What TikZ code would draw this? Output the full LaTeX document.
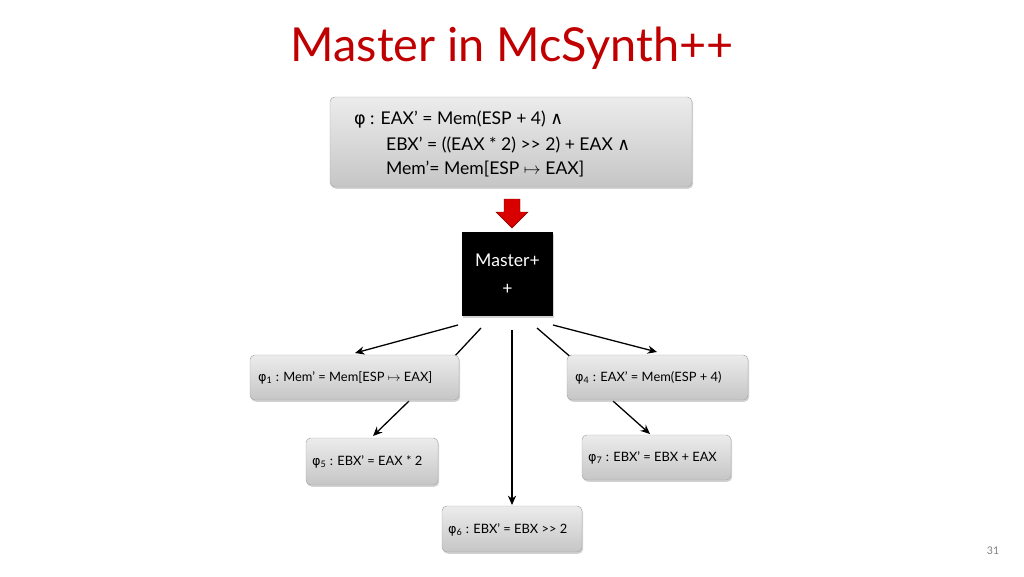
\documentclass[tikz,border=0pt]{standalone}
\usepackage{fontspec}
\setmainfont{Lato}
\newfontfamily\grk{DejaVu Sans}
\usetikzlibrary{arrows.meta,shadows}

\definecolor{titlered}{RGB}{192,0,0}
\newcommand{\phisym}{{\grk φ}}
\tikzset{
  greybox/.style={draw=gray!70, rounded corners=4pt, top color=gray!15, bottom color=gray!45,
    drop shadow={shadow xshift=1pt, shadow yshift=-1.5pt, opacity=0.35}},
  link/.style={line width=1.1pt, -{Stealth[length=8pt,width=7pt]}},
  lbl/.style={anchor=west, font=\fontsize{11}{13}\selectfont}
}

\begin{document}
\begin{tikzpicture}[x=0.03cm,y=-0.03cm]
    \useasboundingbox (0,0) rectangle (1024,576);

    \node[titlered, font=\fontsize{40}{44}\selectfont] (title) at (512,48) {Master in McSynth++};

    % top formula
    \draw[greybox] (330,97) rectangle (692,187);
    \node[anchor=west, font=\fontsize{15}{18}\selectfont] (f1) at (350,120) {\phisym{} : EAX’ = Mem(ESP + 4) {\grk ∧}};
    \node[anchor=west, font=\fontsize{15}{18}\selectfont] (f2) at (382,145) {EBX’ = ((EAX * 2) >{}> 2) + EAX {\grk ∧}};
    \node[anchor=west, font=\fontsize{15}{18}\selectfont] (f3) at (382,169) {Mem’= Mem[ESP $\mapsto$ EAX]};

    % red arrow
    \fill[red!85!black, draw=red!50!black] (504,199) -- (520,199) -- (520,212) -- (528,212) -- (512,228) -- (496,212) -- (504,212) -- cycle;

    % master box
    \fill[black, drop shadow={shadow xshift=1pt, shadow yshift=-1.5pt, opacity=0.35}] (462,232) rectangle (553,316);
    \node[white, align=center, font=\fontsize{15}{24}\selectfont] (M) at (507.5,274) {Master+\\+};

    \coordinate (s1) at (458,325);
    \coordinate (s2) at (481,328);
    \coordinate (s3) at (512,330);
    \coordinate (s4) at (537,328);
    \coordinate (s5) at (553,325);
    \coordinate (e2) at (440,372);
    \coordinate (e4) at (588,372);

    % connectors (some run under the boxes)
    \draw[link] (s1) -- (355,353);
    \draw[link] (s2) -- (e2);
    \draw[link] (s3) -- (512,505);
    \draw[link] (s4) -- (e4);
    \draw[link] (s5) -- (657,352);
    \draw[link] (409,401) -- (373,436);
    \draw[link] (613,401) -- (650,434);

    % leaf boxes
    \draw[greybox] (250,355) rectangle (459,400);
    \node[lbl] (p1) at (254,378) {\phisym\textsubscript{1} : Mem’ = Mem[ESP $\mapsto$ EAX]};
    \draw[greybox] (567,355) rectangle (748,400);
    \node[lbl] (p4) at (571,378) {\phisym\textsubscript{4} : EAX’ = Mem(ESP + 4)};
    \draw[greybox] (306,438) rectangle (438,485);
    \node[lbl] (p5) at (308,462) {\phisym\textsubscript{5} : EBX’ = EAX * 2};
    \draw[greybox] (582,435) rectangle (731,480);
    \node[lbl] (p7) at (584,458) {\phisym\textsubscript{7} : EBX’ = EBX + EAX};
    \draw[greybox] (442,506) rectangle (582,552);
    \node[lbl] (p6) at (444,530) {\phisym\textsubscript{6} : EBX’ = EBX >{}> 2};

    \node[gray, font=\fontsize{9}{11}\selectfont] (page) at (993,551) {31};
\end{tikzpicture}
\end{document}
